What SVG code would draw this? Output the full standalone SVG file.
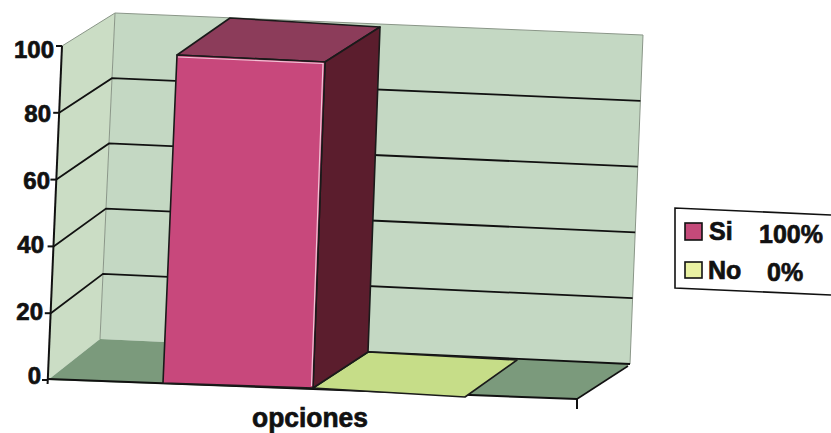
<svg xmlns="http://www.w3.org/2000/svg" width="831" height="433" viewBox="0 0 831 433">
<style>
.lbl{font-family:"Liberation Sans",Arial,sans-serif;font-weight:bold;fill:#111;stroke:#111;stroke-width:0.7}
.grid{stroke:#111;stroke-width:1.8;fill:none}
.edge{stroke:#8a9688;stroke-width:1;fill:none}
.out{stroke:#1a1a1a;stroke-width:1.6;stroke-linejoin:round}
</style>
<rect width="831" height="433" fill="#ffffff"/>
<g id="walls">
  <polygon points="115,13 643,35 630,364 100,339" fill="#c4d8c3"/>
  <polygon points="62,46 115,13 100,339 48,380" fill="#cbddc5"/>
  <polygon points="48,380 100,339 630,364 577,399" fill="#7b9a7c"/>
  <polyline class="edge" points="62,46 115,13 643,35 630,364"/>
  <line class="edge" x1="115" y1="13" x2="100" y2="339"/>
</g>
<g id="gridlines">
  <polyline class="grid" points="59.2,112.8 112,78.2 640.4,100.8"/>
  <polyline class="grid" points="56.4,179.6 109,143.4 637.8,166.6"/>
  <polyline class="grid" points="53.6,246.4 106,208.6 635.2,232.4"/>
  <polyline class="grid" points="50.8,313.2 103,273.8 632.6,298.2"/>
  <line class="grid" x1="368" y1="352" x2="630" y2="364" stroke-width="1.4"/>
</g>
<g id="axis">
  <line x1="62" y1="46" x2="47.6" y2="384" stroke="#111" stroke-width="2"/>
  <line x1="48" y1="379" x2="577" y2="399" stroke="#111" stroke-width="2"/>
  <line x1="577" y1="399" x2="577" y2="409" stroke="#111" stroke-width="2"/>
  <line x1="628" y1="366" x2="577" y2="399" stroke="#111" stroke-width="1.6"/>
  <g stroke="#111" stroke-width="2">
    <line x1="56" y1="46" x2="62" y2="46"/>
    <line x1="53.2" y1="112.8" x2="59.2" y2="112.8"/>
    <line x1="50.4" y1="179.6" x2="56.4" y2="179.6"/>
    <line x1="47.6" y1="246.4" x2="53.6" y2="246.4"/>
    <line x1="44.8" y1="313.2" x2="50.8" y2="313.2"/>
    <line x1="42" y1="380" x2="48" y2="380"/>
  </g>
  <g class="lbl" font-size="24" text-anchor="end">
    <text x="54" y="58">100</text>
    <text x="51" y="122">80</text>
    <text x="50" y="189">60</text>
    <text x="44" y="253">40</text>
    <text x="43" y="320">20</text>
    <text x="41" y="384">0</text>
  </g>
</g>
<g id="bar-no">
  <polygon class="out" points="313,388 368,352 517,360 465,397" fill="#c6dd88"/>
</g>
<g id="bar-si">
  <polygon class="out" points="177,55 230,18 380,27 325,62" fill="#8c3c5a"/>
  <polygon class="out" points="325,62 380,27 368,352 313,388" fill="#5b1d2d"/>
  <polygon class="out" points="177,55 325,62 313,388 163,383" fill="#c8487c"/>
  <polyline points="178,57 323,63.5 311.5,386" fill="none" stroke="#f2c4d6" stroke-width="1.2"/>
</g>
<g id="axis-title">
  <text class="lbl" x="252" y="427" font-size="28" textLength="116" lengthAdjust="spacingAndGlyphs">opciones</text>
</g>
<g id="legend">
  <path d="M831,215 L675,208 L675,288 L831,295" fill="#ffffff" stroke="#111" stroke-width="1.6"/>
  <rect x="685" y="223" width="17" height="17" fill="#c44a7a" stroke="#111" stroke-width="1.6"/>
  <rect x="685" y="262" width="17" height="16" fill="#e9f1a2" stroke="#111" stroke-width="1.6"/>
  <g class="lbl" font-size="25">
    <text x="709" y="240">Si</text>
    <text x="759" y="243">100%</text>
    <text x="708" y="279">No</text>
    <text x="767" y="281">0%</text>
  </g>
</g>
</svg>
